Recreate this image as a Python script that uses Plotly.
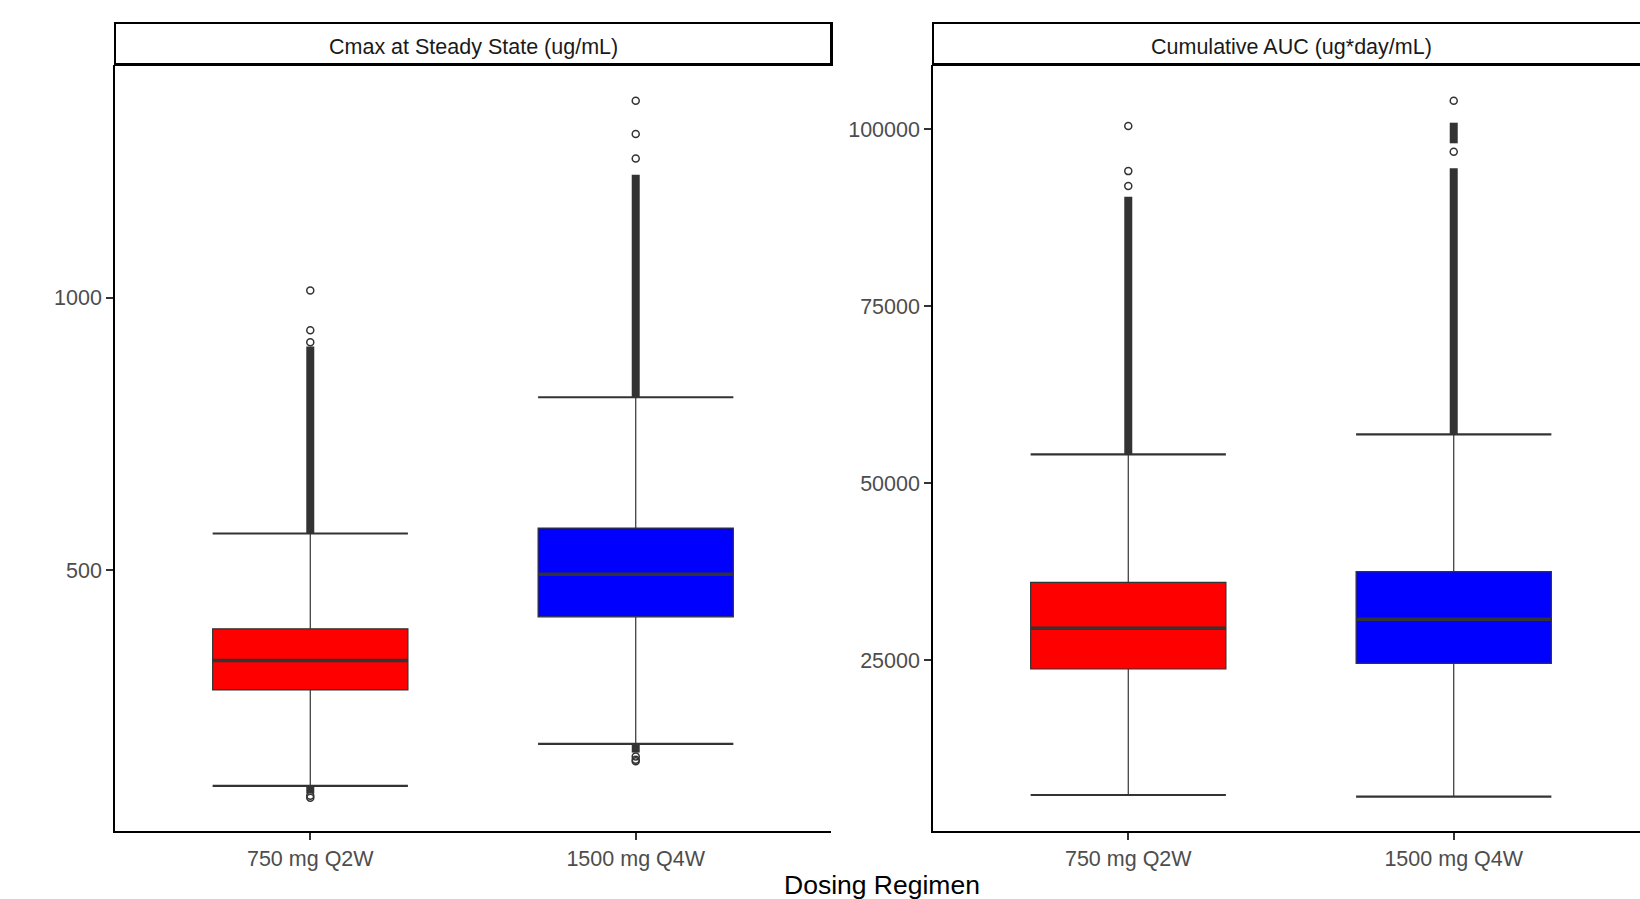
import plotly.graph_objects as go

# ---------------- data ----------------
regimens = ["750 mg Q2W", "1500 mg Q4W"]
positions = [0, 1]
box_colors = ["#FF0000", "#0000FF"]

panel_titles = ["Cmax at Steady State (ug/mL)", "Cumulative AUC (ug*day/mL)"]
x_title = "Dosing Regimen"

# Cmax at steady state (ug/mL)
cmax_q1 = [280, 414]
cmax_median = [334, 492]
cmax_q3 = [392, 577]
cmax_lower = [104, 181]
cmax_upper = [567, 817]
# dense (overplotted) outlier columns: [from, to] per regimen
cmax_dense_upper = [[567, 910], [817, 1225]]
cmax_dense_lower = [[90, 104], [165, 181]]
# individually visible outliers
cmax_out_red = [918, 940, 1013, 86, 82]
cmax_out_blue = [1255, 1300, 1361, 158, 152, 149]

# Cumulative AUC (ug*day/mL)
auc_q1 = [23728, 24534]
auc_median = [29480, 30752]
auc_q3 = [35981, 37479]
auc_lower = [5921, 5681]
auc_upper = [54070, 56896]
auc_dense_upper = [[[54070, 90475]], [[56896, 94488], [98021, 100933]]]
auc_out_red = [92000, 94090, 100466]
auc_out_blue = [96834, 104042]

cmax_ticks = [500, 1000]
auc_ticks = [25000, 50000, 75000, 100000]

# ---------------- layout geometry (pixels) ----------------
W, H = 1640, 899
L1, R1 = 115, 831
L2 = 933
PT, PB = 65, 831
unit = (R1 - L1) / 2.2
box_w = 0.6

def px_x(p):
    return p / W

def px_y(p):
    return (H - p) / H

fig = go.Figure()

edge = "#333333"

def add_panel(xa, ya, q1, med, q3, lo, up, dense_up, dense_lo, outs):
    for i, pos in enumerate(positions):
        fig.add_trace(go.Box(
            x=[pos], q1=[q1[i]], median=[med[i]], q3=[q3[i]],
            lowerfence=[lo[i]], upperfence=[up[i]],
            width=box_w, whiskerwidth=0, boxpoints=False,
            fillcolor=box_colors[i], line=dict(color=edge, width=1.2),
            xaxis=xa, yaxis=ya, showlegend=False, hoverinfo="skip"))
        # median (thicker)
        fig.add_trace(go.Scatter(
            x=[pos - box_w / 2, pos + box_w / 2], y=[med[i], med[i]],
            mode="lines", line=dict(color=edge, width=3.5),
            xaxis=xa, yaxis=ya, showlegend=False, hoverinfo="skip"))
        # whisker caps
        for f in (lo[i], up[i]):
            fig.add_trace(go.Scatter(
                x=[pos - box_w / 2, pos + box_w / 2], y=[f, f],
                mode="lines", line=dict(color=edge, width=2.2),
                xaxis=xa, yaxis=ya, showlegend=False, hoverinfo="skip"))
        # dense outlier columns
        segs = list(dense_up[i]) + (list(dense_lo[i]) if dense_lo else [])
        for s in segs:
            fig.add_trace(go.Scatter(
                x=[pos, pos], y=[s[0], s[1]], mode="lines",
                line=dict(color=edge, width=8),
                xaxis=xa, yaxis=ya, showlegend=False, hoverinfo="skip"))
        # individual outliers
        fig.add_trace(go.Scatter(
            x=[pos] * len(outs[i]), y=outs[i], mode="markers",
            marker=dict(symbol="circle-open", size=7, color=edge,
                        line=dict(width=1.5, color=edge)),
            xaxis=xa, yaxis=ya, showlegend=False, hoverinfo="skip"))

add_panel("x", "y", cmax_q1, cmax_median, cmax_q3, cmax_lower, cmax_upper,
          [[s] for s in cmax_dense_upper], [[s] for s in cmax_dense_lower],
          [cmax_out_red, cmax_out_blue])
add_panel("x2", "y2", auc_q1, auc_median, auc_q3, auc_lower, auc_upper,
          auc_dense_upper, None, [auc_out_red, auc_out_blue])

tickfont = dict(family="Liberation Sans, Arial, sans-serif", size=21.5, color="#4D4D4D")

xcommon = dict(tickmode="array", tickvals=positions, ticktext=regimens,
               showline=True, linecolor="black", linewidth=1.5,
               ticks="outside", ticklen=7, tickwidth=1.5, tickcolor=edge,
               showgrid=False, zeroline=False, tickfont=tickfont)
ycommon = dict(showline=True, linecolor="black", linewidth=1.5,
               ticks="outside", ticklen=7, tickwidth=1.5, tickcolor=edge,
               showgrid=False, zeroline=False, tickfont=tickfont,
               tickformat="d", tickmode="array")

dom_y = [px_y(PB), px_y(PT)]
x2_max = -0.6 + (W - L2) / unit

fig.update_layout(
    width=W, height=H,
    margin=dict(l=0, r=0, t=0, b=0),
    plot_bgcolor="white", paper_bgcolor="white",
    xaxis=dict(domain=[px_x(L1), px_x(R1)], range=[-0.6, 1.6], anchor="y", **xcommon),
    yaxis=dict(domain=dom_y, range=[21.1, 1426.6], anchor="x", tickvals=cmax_ticks, **ycommon),
    xaxis2=dict(domain=[px_x(L2), 1.0], range=[-0.6, x2_max], anchor="y2", **xcommon),
    yaxis2=dict(domain=dom_y, range=[834, 109087], anchor="x2", tickvals=auc_ticks, **ycommon),
)

# strips
strip_top, strip_bot = 23, 65
strips = [(L1, R1 + 1), (L2, L2 + (R1 + 1 - L1))]
for (a, b), title in zip(strips, panel_titles):
    fig.add_shape(type="rect", xref="paper", yref="paper",
                  x0=px_x(a), x1=px_x(b), y0=px_y(strip_bot), y1=px_y(strip_top),
                  line=dict(color="black", width=2), fillcolor="white", layer="above")
    fig.add_shape(type="line", xref="paper", yref="paper",
                  x0=px_x(a), x1=px_x(b), y0=px_y(strip_bot - 1), y1=px_y(strip_bot - 1),
                  line=dict(color="black", width=2), layer="above")
    fig.add_shape(type="line", xref="paper", yref="paper",
                  x0=px_x(b - 1), x1=px_x(b - 1), y0=px_y(strip_bot), y1=px_y(strip_top),
                  line=dict(color="black", width=2), layer="above")
    fig.add_annotation(text=title, xref="paper", yref="paper",
                       x=px_x((a + b) / 2), y=px_y(47),
                       xanchor="center", yanchor="middle", showarrow=False,
                       font=dict(family="Liberation Sans, Arial, sans-serif", size=21.5, color="#1A1A1A"))

fig.add_annotation(text=x_title, xref="paper", yref="paper",
                   x=px_x((L1 + L2 + (R1 - L1)) / 2), y=px_y(885),
                   xanchor="center", yanchor="middle", showarrow=False,
                   font=dict(family="Liberation Sans, Arial, sans-serif", size=26.5, color="black"))

fig.write_html("out.html",
               config={"displayModeBar": False},
               post_script="document.body.style.margin='0';document.body.style.padding='0';"
                           "document.body.style.overflow='hidden';")
